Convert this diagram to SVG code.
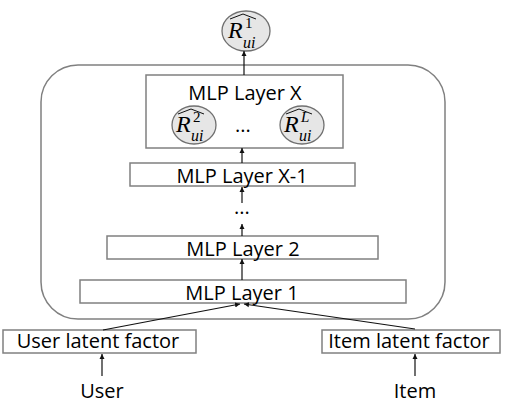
<svg xmlns="http://www.w3.org/2000/svg" width="505" height="404" viewBox="0 0 505 404">
<defs>
<marker id="ah" markerWidth="6" markerHeight="6" refX="5" refY="3" orient="auto" markerUnits="userSpaceOnUse">
<path d="M0,0.5 L5,3 L0,5.5 Z" fill="#111"/>
</marker>
<style>
.box{fill:#fff;stroke:#808080;stroke-width:1.5}
.lbl{font-family:"Open Sans","Liberation Sans",sans-serif;font-size:20px;fill:#000;text-anchor:middle}
.est{fill:#e6e6e6;stroke:#707070;stroke-width:1.3}
.R{font-family:"Liberation Serif","DejaVu Serif",serif;font-style:italic;font-size:24px;fill:#000}
.sup{font-style:normal;font-size:15px}
.supi{font-style:italic;font-size:15px}
.sub{font-style:italic;font-size:16px}
.hat{fill:none;stroke:#111;stroke-width:1}
.con line{stroke:#111;stroke-width:1.2;marker-end:url(#ah)}
</style>
</defs>
<rect x="0" y="0" width="505" height="404" fill="#fff"/>

<g id="container">
<rect x="41" y="65" width="404" height="254" rx="37" fill="none" stroke="#808080" stroke-width="1.5"/>
</g>

<g id="output">
<ellipse class="est" cx="246" cy="31" rx="24" ry="20"/>
<g transform="translate(246,31)">
<path class="hat" d="M-16,-12 L-3,-17 L10,-12"/>
<text class="R" x="-18" y="7">R<tspan class="sup" x="-1" y="-3">1</tspan><tspan class="sub" x="-3" y="17">ui</tspan></text>
</g>
</g>

<g id="mlp-x">
<rect class="box" x="146" y="75" width="197" height="73"/>
<text class="lbl" x="245" y="100">MLP Layer X</text>
<ellipse class="est" cx="194" cy="125" rx="22" ry="19"/>
<g transform="translate(194,125)">
<path class="hat" d="M-16,-11 L-3,-16 L10,-11"/>
<text class="R" x="-18" y="7">R<tspan class="sup" x="-1" y="-3">2</tspan><tspan class="sub" x="-3" y="16">ui</tspan></text>
</g>
<text class="lbl" x="243" y="132">...</text>
<ellipse class="est" cx="302" cy="125" rx="22" ry="19"/>
<g transform="translate(302,125)">
<path class="hat" d="M-16,-11 L-3,-16 L10,-11"/>
<text class="R" x="-18" y="7">R<tspan class="supi" x="-1" y="-3">L</tspan><tspan class="sub" x="-3" y="16">ui</tspan></text>
</g>
</g>

<g id="mlp-x-1">
<rect class="box" x="130" y="163" width="225" height="23"/>
<text class="lbl" x="242" y="183">MLP Layer X-1</text>
</g>

<g id="dots">
<text class="lbl" x="242" y="214" font-size="12">...</text>
</g>

<g id="mlp-2">
<rect class="box" x="107" y="236" width="271" height="23"/>
<text class="lbl" x="243" y="256">MLP Layer 2</text>
</g>

<g id="mlp-1">
<rect class="box" x="80" y="280" width="326" height="23"/>
<text class="lbl" x="242" y="300">MLP Layer 1</text>
</g>

<g id="user-latent">
<rect class="box" x="3" y="330" width="193" height="23"/>
<text class="lbl" x="98" y="348">User latent factor</text>
</g>

<g id="item-latent">
<rect class="box" x="322" y="330" width="178" height="23"/>
<text class="lbl" x="409" y="348">Item latent factor</text>
</g>

<g id="user">
<text class="lbl" x="102" y="398">User</text>
</g>
<g id="item">
<text class="lbl" x="415" y="398">Item</text>
</g>

<g id="connectors" class="con">
<line x1="244" y1="75" x2="244" y2="51"/>
<line x1="242" y1="163" x2="242" y2="148"/>
<line x1="242" y1="203" x2="242" y2="187"/>
<line x1="242" y1="236" x2="242" y2="224"/>
<line x1="242" y1="280" x2="242" y2="259"/>
<line x1="103" y1="330" x2="240" y2="304"/>
<line x1="415" y1="329" x2="244" y2="304"/>
<line x1="102" y1="376" x2="102" y2="354"/>
<line x1="415" y1="376" x2="415" y2="354"/>
</g>
</svg>
